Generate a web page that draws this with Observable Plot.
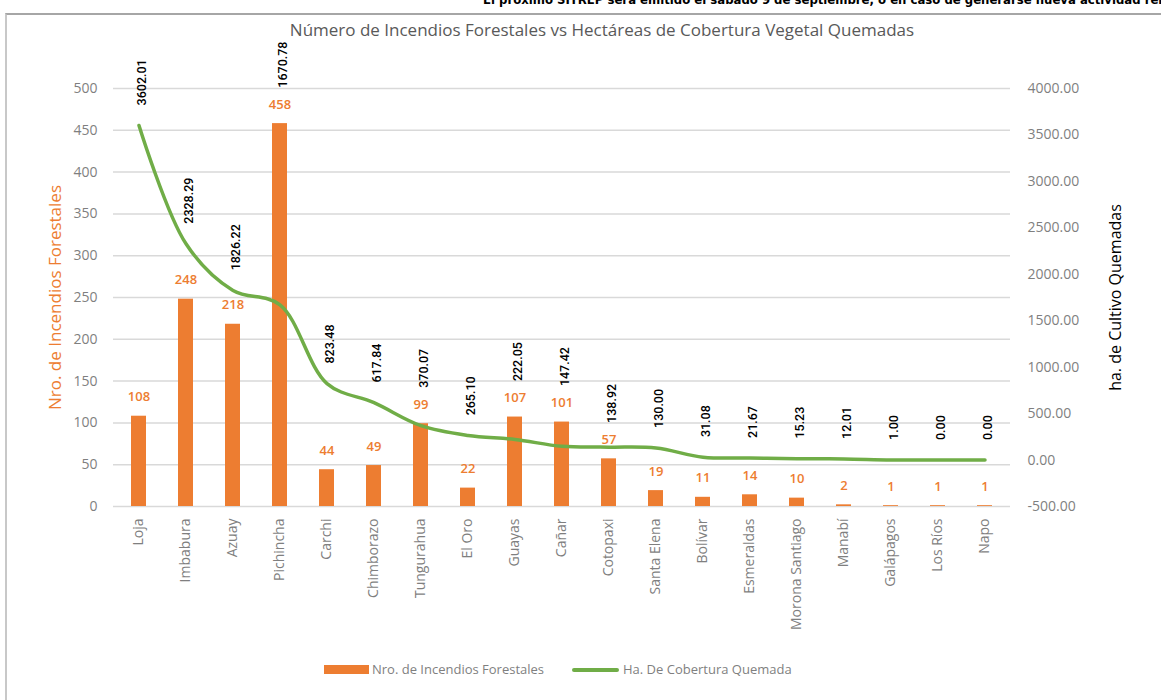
<!DOCTYPE html>
<html>
<head>
<meta charset="utf-8">
<script src="https://cdn.jsdelivr.net/npm/d3@7"></script>
<script src="https://cdn.jsdelivr.net/npm/@observablehq/plot@0.6"></script>
<style>
  html, body { margin: 0; padding: 0; background: #fff; width: 1161px; height: 700px; overflow: hidden; position: relative; font-family: "Open Sans", sans-serif; }
  #header { position: absolute; left: 483px; top: -8px; white-space: nowrap; font-family: "Liberation Sans Narrow", "DejaVu Sans Condensed", sans-serif; font-weight: bold; font-size: 13px; color: #000; }
  #frame { position: absolute; left: 5px; top: 13px; width: 1160px; height: 700px; border-left: 2px solid #c8c8c8; border-top: 2px solid #a6a6a6; }
  #title { position: absolute; left: 0; width: 1204px; top: 18px; text-align: center; font-size: 17px; color: #595959; }
  #chart { position: absolute; left: 0; top: 50px; }
  #legend { position: absolute; top: 660px; left: 0; width: 1161px; font-size: 13px; color: #7f7f7f; }
  .sw { position: absolute; }
  .lt { position: absolute; top: 0; white-space: nowrap; }
</style>
</head>
<body>
<div id="header">El próximo SITREP será emitido el sábado 9 de septiembre, o en caso de generarse nueva actividad relevante</div>
<div id="frame"></div>
<div id="title">Número de Incendios Forestales vs Hectáreas de Cobertura Vegetal Quemadas</div>
<div id="chart"></div>
<div id="legend">
  <div class="sw" style="left:324px; top:5px; width:45px; height:9px; background:#ED7D31;"></div>
  <div class="lt" style="left:372px;">Nro. de Incendios Forestales</div>
  <div class="sw" style="left:572px; top:8px; width:47px; height:4px; border-radius:2px; background:#70AD47;"></div>
  <div class="lt" style="left:623px;">Ha. De Cobertura Quemada</div>
</div>
<script>
const provincias = ["Loja","Imbabura","Azuay","Pichincha","Carchi","Chimborazo","Tungurahua","El Oro","Guayas","Cañar","Cotopaxi","Santa Elena","Bolívar","Esmeraldas","Morona Santiago","Manabí","Galápagos","Los Ríos","Napo"];
const incendios = [108,248,218,458,44,49,99,22,107,101,57,19,11,14,10,2,1,1,1];
const hectareas = [3602.01,2328.29,1826.22,1670.78,823.48,617.84,370.07,265.10,222.05,147.42,138.92,130.00,31.08,21.67,15.23,12.01,1.00,0.00,0.00];
const leftTicks = [0,50,100,150,200,250,300,350,400,450,500];
const rightTicks = [-500,0,500,1000,1500,2000,2500,3000,3500,4000];
const leftTitle = "Nro. de Incendios Forestales";
const rightTitle = "ha. de Cultivo Quemadas";

// right axis [-500, 4000] shares the vertical range of the left axis [0, 500]
const toLeft = v => (v + 500) / 9;
const fromLeft = v => v * 9 - 500;

const data = provincias.map((p, i) => ({prov: p, inc: incendios[i], ha: hectareas[i]}));

const chart = Plot.plot({
  width: 1161,
  height: 580,
  marginTop: 38,
  marginBottom: 124,
  marginLeft: 113,
  marginRight: 151,
  style: {fontFamily: "Open Sans, sans-serif", fontSize: "14px", color: "#7f7f7f", background: "transparent", overflow: "visible"},
  x: {domain: provincias, paddingInner: 0.68, paddingOuter: 0.34, label: null},
  y: {domain: [0, 500], label: null},
  marks: [
    Plot.gridY(leftTicks, {stroke: "#d9d9d9", strokeOpacity: 1, strokeWidth: 1.5}),
    Plot.axisY(leftTicks, {tickSize: 0, tickPadding: 16, label: null, fill: "#7f7f7f"}),
    Plot.axisY(rightTicks.map(toLeft), {anchor: "right", tickSize: 0, tickPadding: 17, label: null, fill: "#7f7f7f", tickFormat: d => fromLeft(d).toFixed(2)}),
    Plot.axisX({tickSize: 0, tickRotate: -90, tickPadding: 12, label: null, fill: "#7f7f7f"}),
    Plot.barY(data, {x: "prov", y: "inc", fill: "#ED7D31"}),
    Plot.line(data, {x: "prov", y: d => toLeft(d.ha), stroke: "#70AD47", strokeWidth: 3.5, curve: "catmull-rom"}),
    Plot.text(data, {x: "prov", y: "inc", text: d => String(d.inc), dy: -19, fill: "#ED7D31", fontSize: 13, fontWeight: 600}),
    Plot.text(data, {x: "prov", y: d => Math.max(toLeft(d.ha) + 24, d.inc + 43), text: d => d.ha.toFixed(2), rotate: -90, textAnchor: "start", dx: 3, fill: "#000", fontSize: 12.5, fontWeight: 500, fontFamily: "Roboto, sans-serif"}),
    Plot.text([leftTitle], {frameAnchor: "left", text: d => d, rotate: -90, textAnchor: "middle", dx: -58, fill: "#ED7D31", fontSize: 17}),
    Plot.text([rightTitle], {frameAnchor: "right", text: d => d, rotate: -90, textAnchor: "middle", dx: 105, fill: "#000", fontSize: 16})
  ]
});
document.getElementById("chart").appendChild(chart);
</script>
</body>
</html>
